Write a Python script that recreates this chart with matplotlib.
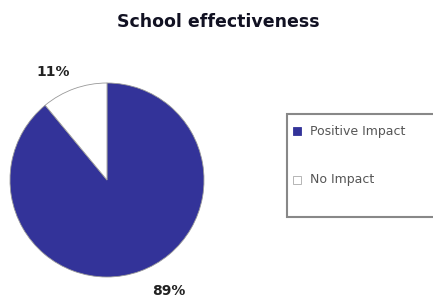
import matplotlib

matplotlib.use("Agg")
import matplotlib.pyplot as plt  # noqa: E402
from matplotlib.patches import Rectangle  # noqa: E402

categories = ["Positive Impact", "No Impact"]
shares = [89, 11]
colors = ["#333399", "#ffffff"]

W, H = 433, 298
fig = plt.figure(figsize=(W / 100, H / 100), dpi=100)
fig.patch.set_facecolor("white")


def fx(px):
    return px / W


def fy(py):
    return 1 - py / H


fig.text(fx(218), fy(22), "School effectiveness", ha="center", va="center",
         fontsize=12.5, fontweight="bold", family="DejaVu Sans", color="#111122")

# pie: center ~(107,180), radius ~97 px
ax = fig.add_axes([fx(10), fy(277), 194 / W, 194 / H])
wedges, _ = ax.pie(shares, colors=colors, startangle=90, counterclock=False,
                   radius=1.0, wedgeprops=dict(edgecolor="#999999", linewidth=0.6))
ax.set_xlim(-1, 1)
ax.set_ylim(-1, 1)
ax.set_aspect("equal")
ax.axis("off")

# percentage labels outside the pie
fig.text(fx(53), fy(72), f"{shares[1]}%", ha="center", va="center",
         fontsize=10, fontweight="bold", family="DejaVu Sans", color="#222222")
fig.text(fx(169), fy(291), f"{shares[0]}%", ha="center", va="center",
         fontsize=10, fontweight="bold", family="DejaVu Sans", color="#222222")

# legend frame, running off the right edge like the original
frame = Rectangle((fx(287), fy(217)), fx(160), 103 / H, transform=fig.transFigure,
                  facecolor="white", edgecolor="#888888", linewidth=1.5)
fig.patches.append(frame)

for i, (lab, col) in enumerate(zip(categories, colors)):
    yy = 131 + i * 49
    fig.patches.append(Rectangle((fx(293), fy(yy + 4)), fx(8), 8 / H,
                                 transform=fig.transFigure, facecolor=col,
                                 edgecolor="#aaaaaa" if col == "#ffffff" else col,
                                 linewidth=0.6))
    fig.text(fx(310), fy(yy), lab, ha="left", va="center", fontsize=9,
             family="DejaVu Sans", color="#555555")

fig.savefig("out.png", dpi=100)
